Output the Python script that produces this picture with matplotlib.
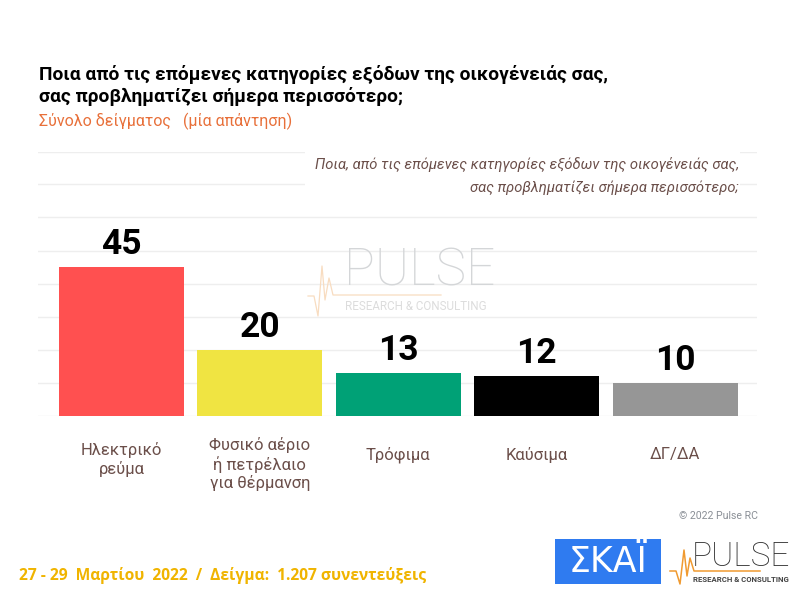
# -*- coding: utf-8 -*-
import matplotlib
matplotlib.use("Agg")
import matplotlib.pyplot as plt
from matplotlib.patches import Rectangle

W, H = 800, 595
SANS = ["Roboto", "DejaVu Sans"]
BROWN = "#6b4f4a"

categories = ["Ηλεκτρικό\nρεύμα", "Φυσικό αέριο\nή πετρέλαιο\nγια θέρμανση",
              "Τρόφιμα", "Καύσιμα", "ΔΓ/ΔΑ"]
values = [45, 20, 13, 12, 10]
colors = ["#ff5050", "#f0e442", "#00a176", "#000000", "#969696"]
y_ticks = [0, 10, 20, 30, 40, 50, 60, 70, 80]

plt.rcParams["font.family"] = SANS
fig = plt.figure(figsize=(W / 100, H / 100), dpi=100, facecolor="white")


def px_text(x, y, s, **kw):
    """Texte placé en pixels de l'image (origine en haut à gauche)."""
    return fig.text(x / W, 1 - y / H, s, **kw)


def px_axes(x0, y0, x1, y1):
    a = fig.add_axes([x0 / W, 1 - y1 / H, (x1 - x0) / W, (y1 - y0) / H])
    a.set_xlim(x0, x1)
    a.set_ylim(y1, y0)
    a.axis("off")
    return a


# --- graphique principal
ax = fig.add_axes([38 / W, 1 - 415.5 / H, 719 / W, 264 / H])
ax.bar(range(len(values)), values, width=0.903, color=colors, zorder=3)
ax.set_xlim(-0.603, 4.592)
ax.set_ylim(0, 80)
ax.set_yticks(y_ticks)
ax.set_xticks([])
ax.tick_params(left=False, labelleft=False)
ax.grid(axis="y", color="#eeeeee", lw=1)
ax.set_axisbelow(True)
for s in ax.spines.values():
    s.set_visible(False)
ax.patch.set_alpha(0)

for i, v in enumerate(values):
    ax.annotate(str(v), (i, v), xytext=(0, 4), textcoords="offset points",
                ha="center", va="bottom", fontsize=25.5, fontweight="bold",
                color="black", zorder=4)
    # libellé centré verticalement selon le nombre de lignes
    n_lines = categories[i].count("\n") + 1
    ax.annotate(categories[i], (i, 0), xytext=(0, -(35 + 4.5 * n_lines) * 0.72),
                textcoords="offset points", ha="center", va="center", fontsize=12,
                color=BROWN, linespacing=1.2, annotation_clip=False)

# --- titres
px_text(39, 74, "Ποια από τις επόμενες κατηγορίες εξόδων της οικογένειάς σας,",
        fontsize=13.8, fontweight="bold", color="black", va="center")
px_text(39, 97, "σας προβληματίζει σήμερα περισσότερο;",
        fontsize=13.8, fontweight="bold", color="black", va="center")
px_text(39, 121, "Σύνολο δείγματος   (μία απάντηση)",
        fontsize=11.5, color="#e8703a", va="center")

# --- encadré en italique, masque les lignes de grille
over = px_axes(0, 0, W, H)
over.set_zorder(5)
over.patch.set_alpha(0)
over.add_patch(Rectangle((305, 148), 435, 54, color="white", lw=0))
over.text(739, 165, "Ποια, από τις επόμενες κατηγορίες εξόδων της οικογένειάς σας,",
          ha="right", va="center", fontsize=10.65, style="italic", color=BROWN)
over.text(739, 188, "σας προβληματίζει σήμερα περισσότερο;",
          ha="right", va="center", fontsize=10.65, style="italic", color=BROWN)

# --- filigrane PULSE
over.text(344, 271, "PULSE", fontsize=37, color="#d4d6d8", va="center",
          fontweight="light", zorder=1)
over.text(345, 306, "RESEARCH & CONSULTING", fontsize=8.4, color="#dcdcdc", va="center")
over.plot([308, 314, 318, 322, 325, 329, 333, 345, 441], [296, 296, 316, 266, 300, 278, 295, 295, 295],
          color="#f8dcc0", lw=0.9)

# --- pied de page
px_text(19, 576, "27 - 29  Μαρτίου  2022  /  Δείγμα:  1.207 συνεντεύξεις",
        fontsize=11.2, fontweight="bold", color="#f0b400", va="center",
        family=["Open Sans", "DejaVu Sans"])
px_text(758, 516, "© 2022 Pulse RC", fontsize=7.6, color="#8a8f96", ha="right", va="center")

# --- logos
over.add_patch(Rectangle((555, 539), 106, 45, color="#2f7bf0", lw=0))
over.text(608, 562, "ΣΚΑΪ", fontsize=25, color="white", ha="center", va="center",
          family=["DejaVu Sans"])
over.text(692, 557, "PULSE", fontsize=24, color="#333333", va="center",
          fontweight="light")
over.text(693, 579, "RESEARCH & CONSULTING", fontsize=5.6, color="#444444", va="center",
          fontweight="bold")
over.plot([670, 676, 680, 684, 687, 690, 694, 700, 760], [571, 571, 584, 550, 576, 558, 571, 571, 571],
          color="#f09a30", lw=1.1)

fig.savefig("out.png", dpi=100, facecolor="white")
